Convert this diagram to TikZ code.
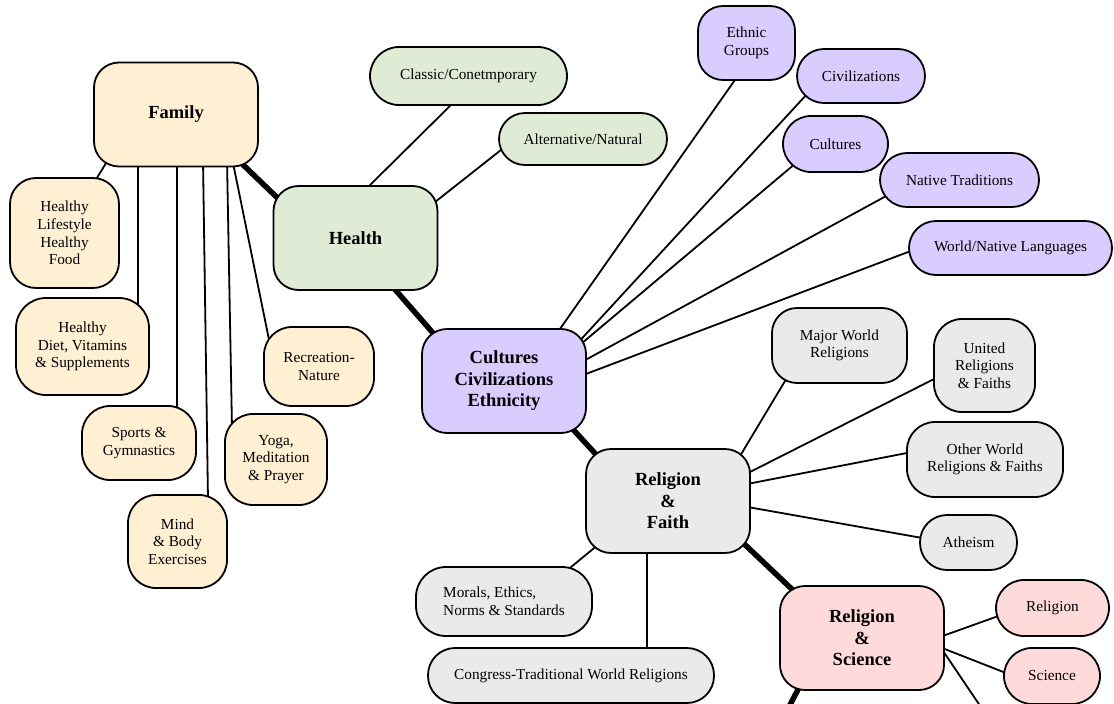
\documentclass[tikz,border=0pt]{standalone}
\usepackage{fontspec}
\setmainfont{Liberation Serif}
\usetikzlibrary{calc}
\pgfdeclarelayer{background}
\pgfsetlayers{background,main}
\definecolor{cream}{HTML}{FFF0D4}
\definecolor{sage}{HTML}{E0EBD5}
\definecolor{lilac}{HTML}{D9CCFF}
\definecolor{pale}{HTML}{EAEAEA}
\definecolor{blush}{HTML}{FFDADA}
\tikzset{
  box/.style={draw=black, line width=1.8pt, inner sep=0pt, align=center,
    font=\fontsize{15.3}{17.6}\selectfont},
  bigbox/.style={box, minimum width=164pt, minimum height=104pt, rounded corners=25pt,
    font=\bfseries\fontsize{18.5}{21.5}\selectfont},
  twig/.style={line width=1.8pt},
  trunk/.style={line width=5.5pt},
}
\begin{document}
\begin{tikzpicture}[x=1pt,y=-1pt]
\useasboundingbox (0,0) rectangle (1114,704);
% main nodes
\node[bigbox, fill=cream] (fam) at (176,114.5) {Family};
\node[bigbox, fill=sage] (health) at (355.5,238) {Health};
\node[bigbox, fill=lilac] (cce) at (504,381) {Cultures\\Civilizations\\Ethnicity};
\node[bigbox, fill=pale] (rf) at (668,501) {Religion\\\&\\Faith};
\node[bigbox, fill=blush] (rs) at (862,638) {Religion\\\&\\Science};
% family children
\node[box, fill=cream, minimum width=109pt, minimum height=110pt, rounded corners=26pt] (life) at (64.5,233) {Healthy\\Lifestyle\\Healthy\\Food};
\node[box, fill=cream, minimum width=133pt, minimum height=97pt, rounded corners=30pt] (diet) at (82.5,346.5) {Healthy\\Diet, Vitamins\\\& Supplements};
\node[box, fill=cream, minimum width=114pt, minimum height=74pt, rounded corners=28pt] (sports) at (139,443) {Sports \&\\Gymnastics};
\node[box, fill=cream, minimum width=99pt, minimum height=93pt, rounded corners=28pt] (mind) at (177.5,541.5) {Mind\\\& Body\\Exercises};
\node[box, fill=cream, minimum width=102pt, minimum height=91pt, rounded corners=28pt] (yoga) at (276,459.5) {Yoga,\\Meditation\\\& Prayer};
\node[box, fill=cream, minimum width=110pt, minimum height=79pt, rounded corners=28pt] (recr) at (319,366.5) {Recreation-\\Nature};
% health children
\node[box, fill=sage, minimum width=197pt, minimum height=58pt, rounded corners=29pt] (classic) at (468.5,76) {Classic/Conetmporary};
\node[box, fill=sage, minimum width=168pt, minimum height=52pt, rounded corners=26pt] (alt) at (583,139) {Alternative/Natural};
% cultures children
\node[box, fill=lilac, minimum width=97pt, minimum height=74pt, rounded corners=25pt] (ethnic) at (746.5,43) {Ethnic\\Groups};
\node[box, fill=lilac, minimum width=128pt, minimum height=54pt, rounded corners=27pt] (civ) at (861,76) {Civilizations};
\node[box, fill=lilac, minimum width=105pt, minimum height=56pt, rounded corners=28pt] (cult) at (835.5,144) {Cultures};
\node[box, fill=lilac, minimum width=159pt, minimum height=54pt, rounded corners=27pt] (native) at (959.5,180) {Native Traditions};
\node[box, fill=lilac, minimum width=203pt, minimum height=54pt, rounded corners=27pt] (world) at (1010.5,248) {World/Native Languages};
% religion & faith children
\node[box, fill=pale, minimum width=135pt, minimum height=75pt, rounded corners=25pt] (major) at (839.5,345.5) {Major World\\Religions};
\node[box, fill=pale, minimum width=101pt, minimum height=93pt, rounded corners=28pt] (united) at (984.5,365.5) {United\\Religions\\\& Faiths};
\node[box, fill=pale, minimum width=156pt, minimum height=75pt, rounded corners=28pt] (other) at (985,459.5) {Other World\\Religions \& Faiths};
\node[box, fill=pale, minimum width=97pt, minimum height=55pt, rounded corners=27pt] (atheism) at (968.5,542.5) {Atheism};
\node[box, fill=pale, minimum width=176pt, minimum height=69pt, rounded corners=30pt, align=left] (morals) at (504,601.5) {Morals, Ethics,\\Norms \& Standards};
\node[box, fill=pale, minimum width=286pt, minimum height=55pt, rounded corners=27pt] (congress) at (571,675.5) {Congress-Traditional World Religions};
% religion & science children
\node[box, fill=blush, minimum width=113pt, minimum height=56pt, rounded corners=28pt] (rel) at (1052.5,608) {Religion};
\node[box, fill=blush, minimum width=96pt, minimum height=56pt, rounded corners=28pt] (sci) at (1052,676) {Science};
\coordinate (out1) at (991,722);
\coordinate (out2) at (781,722);
% connectors
\begin{pgfonlayer}{background}
\clip (0,0) rectangle (1114,704);
\draw[twig] ($(fam.center)+(-65,40.5)$) -- ($(life.center)+(27.5,-47)$);
\draw[twig] ($(fam.center)+(-38,45.5)$) -- ($(diet.center)+(55.5,-36.5)$);
\draw[twig] ($(fam.center)+(1,45.5)$) -- ($(sports.center)+(38,-28)$);
\draw[twig] ($(fam.center)+(27,45.5)$) -- ($(mind.center)+(30.5,-41.5)$);
\draw[twig] ($(fam.center)+(51,45.5)$) -- ($(yoga.center)+(-44,-31.5)$);
\draw[twig] ($(fam.center)+(56,43.5)$) -- ($(recr.center)+(-48.5,-19.5)$);
\draw[trunk] ($(fam.center)+(60,43.5)$) -- ($(health.center)+(-67.5,-30)$);
\draw[twig] ($(health.center)+(8.5,-47)$) -- ($(classic.center)+(-12.5,24)$);
\draw[twig] ($(health.center)+(74.5,-32)$) -- ($(alt.center)+(-77,7)$);
\draw[trunk] ($(health.center)+(36.5,48)$) -- ($(cce.center)+(-64,-40)$);
\draw[twig] ($(cce.center)+(51,-45)$) -- ($(ethnic.center)+(-9.5,34)$);
\draw[twig] ($(cce.center)+(70,-34)$) -- ($(civ.center)+(-53,17)$);
\draw[twig] ($(cce.center)+(71,-32)$) -- ($(cult.center)+(-39.5,19)$);
\draw[twig] ($(cce.center)+(74,-17)$) -- ($(native.center)+(-71.5,15)$);
\draw[twig] ($(cce.center)+(74,-4)$) -- ($(world.center)+(-94.5,1)$);
\draw[trunk] ($(cce.center)+(65,44)$) -- ($(rf.center)+(-65,-39)$);
\draw[twig] ($(rf.center)+(69,-40)$) -- ($(major.center)+(-51.5,30.5)$);
\draw[twig] ($(rf.center)+(76,-26)$) -- ($(united.center)+(-44.5,10.5)$);
\draw[twig] ($(rf.center)+(74,-16)$) -- ($(other.center)+(-73,-7.5)$);
\draw[twig] ($(rf.center)+(74,5)$) -- ($(atheism.center)+(-40.5,-3.5)$);
\draw[twig] ($(rf.center)+(-69,43)$) -- ($(morals.center)+(61,-29.5)$);
\draw[twig] ($(rf.center)+(-21,44)$) -- ($(congress.center)+(76,-20.5)$);
\draw[trunk] ($(rf.center)+(72,39)$) -- ($(rs.center)+(-65,-44)$);
\draw[twig] ($(rs.center)+(75,0)$) -- ($(rel.center)+(-48.5,6)$);
\draw[twig] ($(rs.center)+(75,8)$) -- ($(sci.center)+(-41,-1)$);
\draw[twig] ($(rs.center)+(75,4)$) -- (out1);
\draw[trunk] ($(rs.center)+(-59,42)$) -- (out2);
\end{pgfonlayer}
\end{tikzpicture}
\end{document}
